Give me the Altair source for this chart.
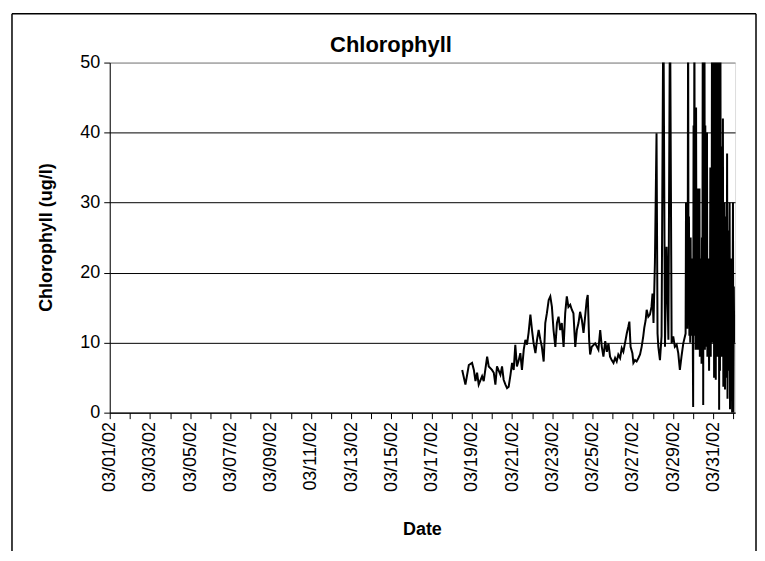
import altair as alt
import pandas as pd

# ---- data (days since 2002-03-01 00:00 UTC, chlorophyll ug/l)
calm_days = [17.52, 17.68, 17.85, 18.01, 18.10, 18.18, 18.26, 18.34, 18.51, 18.59,
             18.76, 18.84, 19.00, 19.09, 19.17, 19.25, 19.42, 19.50, 19.58, 19.67,
             19.75, 19.83, 19.92, 20.00, 20.08, 20.16, 20.24, 20.33, 20.41, 20.49,
             20.58, 20.66, 20.74, 20.82, 20.91, 20.99, 21.07, 21.16, 21.24, 21.32,
             21.40, 21.48, 21.57, 21.65, 21.73, 21.82, 21.90, 21.98, 22.06, 22.15,
             22.23, 22.31, 22.39, 22.47, 22.56, 22.64, 22.72, 22.80, 22.89, 22.97,
             23.05, 23.14, 23.22, 23.30, 23.38, 23.47, 23.55, 23.63, 23.71, 23.76,
             23.83, 23.88, 23.96, 24.13, 24.29, 24.38, 24.46, 24.54, 24.63, 24.71,
             24.79, 24.87, 24.95, 25.04, 25.12, 25.20, 25.28, 25.37, 25.45, 25.53,
             25.61, 25.70, 25.78, 25.83, 25.89, 25.98, 26.03, 26.11, 26.19, 26.28,
             26.36, 26.44, 26.52, 26.57, 26.64, 26.69, 26.77, 26.85, 26.93, 26.98,
             27.03, 27.10, 27.18, 27.23, 27.27, 27.35, 27.43, 27.52, 27.60, 27.68,
             27.77, 27.85, 27.93, 28.01, 28.09, 28.18, 28.26, 28.34, 28.42, 28.51]
calm_values = [6.1, 4.0, 6.8, 7.1, 6.1, 4.5, 5.7, 4.0, 5.2, 4.5,
               8.0, 6.6, 6.1, 5.7, 4.0, 6.6, 5.4, 6.6, 4.7, 4.0,
               3.5, 3.7, 5.4, 7.1, 6.1, 9.7, 6.6, 7.5, 8.5, 6.1,
               9.0, 10.4, 9.7, 11.4, 14.0, 11.8, 9.9, 8.5, 10.4, 11.8,
               10.5, 9.4, 7.3, 12.8, 14.2, 16.1, 16.6, 15.1, 11.8, 9.4,
               12.8, 13.7, 11.8, 12.8, 9.4, 14.2, 16.6, 15.1, 15.4, 14.7,
               14.2, 9.4, 11.8, 12.8, 14.4, 13.2, 11.4, 13.7, 16.1, 16.8,
               10.4, 8.3, 9.4, 9.9, 9.0, 11.8, 9.4, 8.0, 10.2, 8.7,
               9.9, 8.0, 7.5, 7.1, 7.8, 7.3, 8.3, 7.8, 9.2, 8.7,
               9.9, 11.3, 12.3, 13.0, 9.4, 8.5, 7.1, 7.5, 7.3, 7.8,
               8.3, 9.4, 10.9, 12.1, 13.2, 14.7, 13.7, 14.0, 15.1, 17.0,
               12.8, 21.5, 39.9, 11.3, 9.4, 7.5, 10.9, 60.0, 9.4, 23.7,
               10.4, 60.0, 9.9, 10.9, 9.4, 9.7, 8.5, 6.1, 8.0, 9.9]

# half-hourly readings over the noisy end of the record, starting 03/29/02 15:00
spike_start = "2002-03-29T15:00:00Z"
spike_values = [11.3, 30, 14, 22, 12, 18, 60, 13, 28, 11,
                20, 10, 25, 12, 18, 11, 22, 12, 0.8, 41,
                20, 60, 11, 30, 9, 43.6, 12, 25, 9, 32,
                12, 20, 9, 32, 8, 22, 10, 18, 7, 25,
                11, 60, 1.1, 60, 30, 60, 9, 41, 9.4, 25,
                12, 40, 8, 22, 10, 22, 6, 18, 11, 35,
                8, 34.9, 10, 60, 15, 60, 10, 60, 5, 60,
                12, 60, 4.7, 60, 20, 60, 8, 60, 12, 60,
                0.4, 60, 6, 60, 10, 38, 8, 30, 12, 42,
                3.7, 25, 8, 30, 3.3, 20, 5, 28, 9, 37,
                2, 20, 6, 26, 10, 30, 0.5, 15, 22, 4,
                19, 0, 12, 30, 0, 18, 10, 14]

y_ticks = [0, 10, 20, 30, 40, 50]
tick_days = list(range(1, 32))  # every day of March, plus 04/01
title_text = ["Chlorophyll"]

base = pd.Timestamp("2002-03-01T00:00:00Z")
t_calm = [base + pd.to_timedelta(d, unit="D") for d in calm_days]
t_spike = list(pd.date_range(spike_start, periods=len(spike_values), freq="30min"))
times = [t.strftime("%Y-%m-%dT%H:%M:%SZ") for t in t_calm + t_spike]
df = pd.DataFrame({"time": times, "chl": [float(v) for v in calm_values + spike_values]})

tick_values = [alt.DateTime(year=2002, month=3, date=d, utc=True) for d in tick_days] + \
              [alt.DateTime(year=2002, month=4, date=1, utc=True)]

FONT = "Liberation Sans"

line = alt.Chart(df).mark_line(color="black", strokeWidth=2, clip=True).encode(
    x=alt.X(
        "time:T",
        scale=alt.Scale(
            type="utc",
            domain=[alt.DateTime(year=2002, month=3, date=1, utc=True),
                    alt.DateTime(year=2002, month=4, date=1, hours=2, utc=True)],
        ),
        axis=alt.Axis(
            title="Date",
            values=tick_values,
            labelExpr="utcmonth(datum.value) == 2 && utcdate(datum.value) % 2 == 1 ? utcFormat(datum.value, '%m/%d/%y') : ''",
            labelAngle=270,
            labelOverlap=False,
            labelPadding=3,
            labelFontSize=18,
            labelFont=FONT,
            labelColor="black",
            tickSize=6,
            tickColor="black",
            domainColor="black",
            grid=False,
            titleFont=FONT,
            titleFontSize=18,
            titleFontWeight="bold",
            titleColor="black",
            titleX=313,
            titleY=117,
            titleBaseline="middle",
            titleAlign="center",
        ),
    ),
    y=alt.Y(
        "chl:Q",
        scale=alt.Scale(domain=[0, 50], nice=False),
        axis=alt.Axis(
            title="Chlorophyll (ug/l)",
            values=y_ticks,
            labelFontSize=18,
            labelFont=FONT,
            labelColor="black",
            labelPadding=4,
            tickSize=6,
            tickColor="black",
            domainColor="black",
            grid=True,
            gridColor={"condition": {"test": "datum.value == 50", "value": "#808080"}, "value": "black"},
            gridWidth=1,
            titleFont=FONT,
            titleFontSize=18,
            titleFontWeight="bold",
            titleColor="black",
            titleAngle=270,
            titleX=-63,
            titleY=175,
            titleBaseline="middle",
            titleAlign="center",
        ),
    ),
)

title = alt.Chart(pd.DataFrame({"t": title_text})).mark_text(
    font=FONT, fontSize=22, fontWeight="bold", color="black",
    align="center", baseline="alphabetic",
).encode(text="t:N", x=alt.value(282), y=alt.value(-11))

frame_left = alt.Chart().mark_rule(color="black", strokeWidth=1.5).encode(
    x=alt.value(-98), y=alt.value(-49), y2=alt.value(520))
frame_top = alt.Chart().mark_rule(color="black", strokeWidth=1.5).encode(
    x=alt.value(-98), x2=alt.value(648), y=alt.value(-49))
frame_right = alt.Chart().mark_rule(color="black", strokeWidth=1.5).encode(
    x=alt.value(648), y=alt.value(-49), y2=alt.value(520))

chart = alt.layer(line, title, frame_left, frame_top, frame_right).properties(
    width=627,
    height=351,
    padding={"left": 102, "top": 54, "right": 22, "bottom": 138},
    autosize=alt.AutoSizeParams(type="none"),
).configure_view(
    stroke="#808080", strokeWidth=1
).configure(
    background="white"
)

chart.save("out.html", embed_options={"renderer": "svg", "actions": False})
